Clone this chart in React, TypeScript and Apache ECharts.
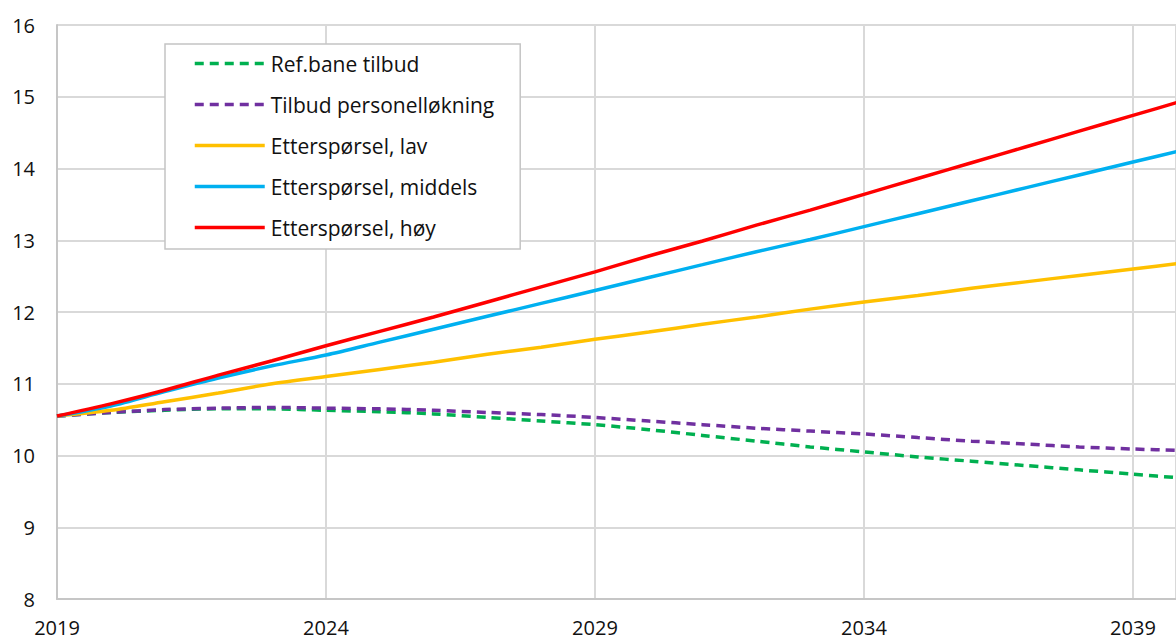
import React, { useEffect, useRef } from "react";
import * as echarts from "echarts";

const years = [2019, 2020, 2021, 2022, 2023, 2024, 2025, 2026, 2027, 2028, 2029, 2030, 2031, 2032, 2033, 2034, 2035, 2036, 2037, 2038, 2039, 2040];
const refTilbud = [10.55, 10.6, 10.63, 10.65, 10.65, 10.63, 10.61, 10.58, 10.53, 10.48, 10.43, 10.36, 10.28, 10.2, 10.12, 10.05, 9.98, 9.92, 9.86, 9.8, 9.74, 9.68];
const tilbudPers = [10.55, 10.6, 10.64, 10.66, 10.67, 10.66, 10.65, 10.63, 10.6, 10.57, 10.53, 10.48, 10.43, 10.38, 10.34, 10.3, 10.25, 10.2, 10.16, 10.12, 10.09, 10.07];
const etterLav = [10.55, 10.63, 10.75, 10.87, 11.0, 11.1, 11.2, 11.3, 11.41, 11.51, 11.62, 11.72, 11.83, 11.93, 12.04, 12.14, 12.23, 12.33, 12.42, 12.51, 12.6, 12.69];
const etterMiddels = [10.55, 10.69, 10.89, 11.08, 11.25, 11.4, 11.58, 11.76, 11.94, 12.12, 12.3, 12.48, 12.66, 12.84, 13.01, 13.19, 13.37, 13.55, 13.73, 13.91, 14.09, 14.27];
const etterHoy = [10.55, 10.72, 10.91, 11.12, 11.32, 11.53, 11.73, 11.93, 12.14, 12.35, 12.56, 12.78, 12.99, 13.21, 13.42, 13.64, 13.86, 14.08, 14.3, 14.52, 14.74, 14.96];

const seriesNames = ["Ref.bane tilbud", "Tilbud personelløkning", "Etterspørsel, lav", "Etterspørsel, middels", "Etterspørsel, høy"];
const seriesData = [refTilbud, tilbudPers, etterLav, etterMiddels, etterHoy];
const seriesColors = ["#00b050", "#7030a0", "#ffc000", "#00b0f0", "#ff0000"];
const seriesDashed = [true, true, false, false, false];

const FONT = "'Open Sans', 'Noto Sans', sans-serif";

export default function App() {
  const ref = useRef<HTMLDivElement>(null);
  useEffect(() => {
    document.body.style.margin = "0";
    const chart = echarts.init(ref.current!, null, { renderer: "svg" });
    chart.setOption({
      animation: false,
      backgroundColor: "#ffffff",
      grid: { left: 57, right: 0, top: 25, bottom: 40, containLabel: false },
      legend: {
        orient: "vertical",
        left: 165,
        top: 44,
        padding: [9, 26, 11, 28],
        itemWidth: 70,
        itemHeight: 20,
        itemGap: 20,
        borderColor: "#c4c4c4",
        borderWidth: 1.5,
        backgroundColor: "#ffffff",
        itemStyle: { opacity: 0 },
        textStyle: { fontFamily: FONT, fontSize: 21, color: "#111", padding: [0, 0, 0, 1] },
        data: seriesNames.map((name, i) => ({
          name,
          itemStyle: { opacity: 0 },
          lineStyle: { width: 3.5, color: seriesColors[i], type: seriesDashed[i] ? [9, 6] : "solid" },
        })),
      },
      xAxis: {
        type: "value",
        min: 2019,
        max: 2039.8,
        interval: 5,
        axisLine: { show: true, lineStyle: { color: "#c6c6c6", width: 2 } },
        axisTick: { show: false },
        splitLine: { show: true, lineStyle: { color: "#d9d9d9", width: 2 } },
        axisLabel: {
          fontFamily: FONT,
          fontSize: 20,
          color: "#111",
          margin: 18,
          showMaxLabel: false,
          formatter: (v: number) => String(Math.round(v)),
        },
      },
      yAxis: {
        type: "value",
        min: 8,
        max: 16,
        interval: 1,
        axisLine: { show: true, lineStyle: { color: "#c6c6c6", width: 2 } },
        axisTick: { show: false },
        splitLine: { show: true, lineStyle: { color: "#d9d9d9", width: 2 } },
        axisLabel: { fontFamily: FONT, fontSize: 20, color: "#111", margin: 22 },
      },
      series: seriesNames.map((name, i) => ({
        name,
        type: "line",
        data: years.map((y, j) => [y, seriesData[i][j]]),
        symbol: "none",
        smooth: 0.3,
        clip: true,
        lineStyle: {
          color: seriesColors[i],
          width: 3.5,
          type: seriesDashed[i] ? [9, 6] : "solid",
        },
        itemStyle: { color: seriesColors[i] },
      })),
    });
    return () => chart.dispose();
  }, []);
  return <div ref={ref} style={{ position: "absolute", left: 0, top: 0, width: 1176, height: 639 }} />;
}
